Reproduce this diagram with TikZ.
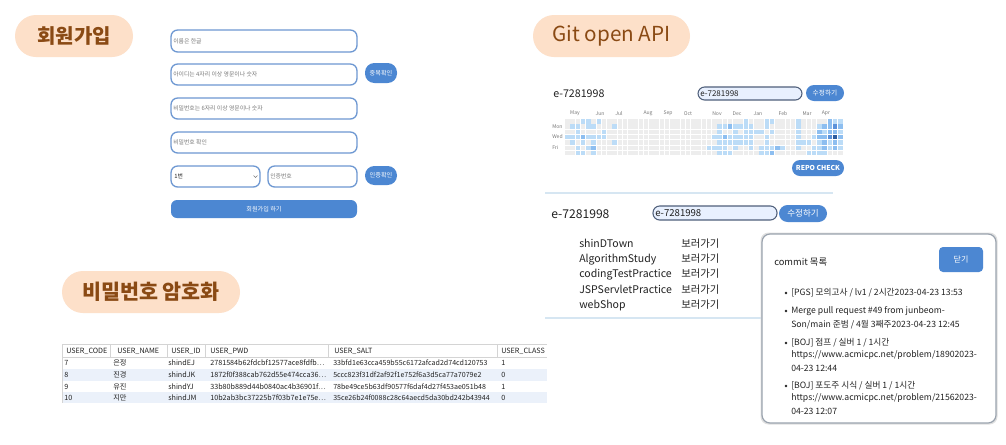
\documentclass[tikz,border=0pt]{standalone}
\usepackage{fontspec}
\setmainfont{Noto Sans CJK KR}
\definecolor{peach}{HTML}{FDE0C9}
\definecolor{brownt}{HTML}{8A4A14}
\definecolor{btnblue}{HTML}{4C87D2}
\definecolor{fieldb}{HTML}{6E98D2}
\definecolor{ph}{HTML}{7A7A7A}
\definecolor{inputfill}{HTML}{E8F0FE}
\definecolor{inputb}{HTML}{4F5F7A}
\definecolor{sepc}{HTML}{D6E6F2}
\definecolor{cg0}{HTML}{EDEDED}
\definecolor{cg1}{HTML}{BCDCF7}
\definecolor{cg2}{HTML}{8DBEF0}
\definecolor{cg3}{HTML}{5C92DA}
\definecolor{cg4}{HTML}{2E5C9E}
\definecolor{rowb}{HTML}{EBF1FA}
\definecolor{tline}{HTML}{D4D4D4}
\definecolor{modalb}{HTML}{9AA3AE}
\definecolor{txt}{HTML}{222222}
\newcommand{\ellp}{\ldots}
\begin{document}
\begin{tikzpicture}[x=0.75pt,y=-0.75pt,inner sep=0pt,
  pill/.style={fill=peach,rounded corners=15.75pt},
  pilltext/.style={text=brownt,font=\fontsize{15}{18}\selectfont\bfseries},
  fieldbox/.style={draw=fieldb,line width=1pt,rounded corners=5pt,fill=white},
  placeholder/.style={anchor=west,text=ph,font=\fontsize{4.4}{5}\selectfont},
  btn/.style={fill=btnblue,rounded corners=7pt},
  btntext/.style={text=white,font=\fontsize{4.6}{5}\selectfont},
  inputbox/.style={draw=inputb,fill=inputfill,line width=0.8pt,rounded corners=5pt},
  tiny/.style={text=ph,font=\fontsize{3.8}{4}\selectfont},
  repo/.style={anchor=base west,text=txt,font=\fontsize{7.9}{10}\selectfont},
  repok/.style={anchor=base west,text=txt,font=\fontsize{7.8}{10}\selectfont},
  cmt/.style={anchor=west,text=txt,font=\fontsize{6.5}{8}\selectfont},
  tbl/.style={anchor=base west,text=txt,font=\fontsize{5.4}{7}\selectfont},
  hex/.style={anchor=base west,text=txt,font=\fontsize{5.3}{6}\selectfont},
  sepline/.style={draw=sepc,line width=1pt}]
\useasboundingbox (0,0) rectangle (1006,444);
\fill[white] (0,0) rectangle (1006,444);

% ---------- labels ----------
\fill[pill] (15,15) rectangle (133,57);
\node[pilltext] (lblsign) at (74,36) {회원가입};
\fill[pill] (533,15) rectangle (690,57);
\node[pilltext,font=\fontsize{15.5}{18}\selectfont] (lblgit) at (611.5,36) {Git open API};
\fill[pill] (62,271) rectangle (240,313);
\node[pilltext,font=\fontsize{15.5}{18}\selectfont\bfseries] (lblpwd) at (151,292) {비밀번호 암호화};

% ---------- sign-up form ----------
\draw[fieldbox] (171,30) rectangle (357,52);
\node[placeholder] (f1) at (173,41) {이름은 한글};
\draw[fieldbox] (171,64) rectangle (357,85);
\node[placeholder] (f2) at (173,74.5) {아이디는 4자리 이상 영문이나 숫자};
\fill[btn] (365,63) rectangle (397,83);
\node[btntext] (b1) at (381,73) {중복확인};
\draw[fieldbox] (171,98) rectangle (357,119);
\node[placeholder] (f3) at (173,108.5) {비밀번호는 6자리 이상 영문이나 숫자};
\draw[fieldbox] (171,132) rectangle (357,153);
\node[placeholder] (f4) at (173,142.5) {비밀번호 확인};
\draw[fieldbox] (171,166) rectangle (260,187);
\node[placeholder,text=txt] (f5) at (174,176.5) {1번};
\draw[ph,line width=0.5pt] (253.5,175.5) -- (255.5,177.5) -- (257.5,175.5);
\draw[fieldbox] (268,166) rectangle (357,187);
\node[placeholder] (f6) at (270,176.5) {인증번호};
\fill[btn] (365,166) rectangle (397,185);
\node[btntext] (b2) at (381,175.5) {인증확인};
\fill[btn,rounded corners=4.5pt] (171,200) rectangle (357,218);
\node[btntext] (b3) at (264,209) {회원가입 하기};

% ---------- git section (top) ----------
\node[anchor=west,text=txt,font=\fontsize{8}{10}\selectfont] (gt1) at (553,94) {e-7281998};
\draw[inputbox] (698,87) rectangle (802,100);
\node[anchor=west,text=txt,font=\fontsize{6}{7}\selectfont] (gi1) at (700,93.5) {e-7281998};
\fill[btn,rounded corners=6pt] (806,85) rectangle (844,101);
\node[btntext,font=\fontsize{5}{6}\selectfont] (gb1) at (825,93) {수정하기};

\foreach \m/\xx in {May/575,Jun/600,Jul/619,Aug/648,Sep/668,Oct/688,Nov/717,Dec/737,Jan/758,Feb/783,Mar/807,Apr/826}
  \node[tiny] (m\m) at (\xx,113.5) {\m};
\node[tiny,anchor=west] (dmon) at (552,126.5) {Mon};
\node[tiny,anchor=west] (dwed) at (552,137) {Wed};
\node[tiny,anchor=west] (dfri) at (552,147.8) {Fri};

\foreach \r in {0,...,6}{\foreach \c in {0,...,52}{\fill[cg0] ({565+\c*5.25},{119+\r*5.3}) rectangle ++(4.5,4.5);}}
\foreach \r/\cols in {0/{3,4,6,34,38,39,44,51,52},
                      1/{1,2,4,5,9,29,30,32,33,34,35,38,44,48},
                      2/{2,7,29,32,34,35,36,37,39,44,49,52},
                      3/{0,1,2,4,5,6,7,28,29,31,32,33,34,35,38,44,47},
                      4/{1,3,5,9,29,30,31,32,33,34,35,38,44,45,46,48,50,52},
                      5/{2,4,27,28,29,30,32,35,37,38,39,41,44,47,48,50,52},
                      6/{2,3,5,29,30,31,37,38,46,47,48,49}}
  {\foreach \c in \cols {\fill[cg1] ({565+\c*5.25},{119+\r*5.3}) rectangle ++(4.5,4.5);}}
\foreach \r/\cols in {0/{50},1/{31,49,50,52},2/{48,50,51},3/{3,30,48,49,52},4/{49,51},5/{5,40,49,51},6/{39}}
  {\foreach \c in \cols {\fill[cg2] ({565+\c*5.25},{119+\r*5.3}) rectangle ++(4.5,4.5);}}
\foreach \c/\r in {51/1,50/3}
  {\fill[cg3] ({565+\c*5.25},{119+\r*5.3}) rectangle ++(4.5,4.5);}
\fill[cg4] ({565+51*5.25},{119+3*5.3}) rectangle ++(4.5,4.5);

\fill[btn,rounded corners=6pt] (792,160) rectangle (844,176);
\node[btntext,font=\fontsize{5.1}{6}\selectfont\bfseries] (repo) at (818,168) {REPO CHECK};

\draw[sepline] (545,193) -- (833,193);

% ---------- git section (bottom) ----------
\node[anchor=west,text=txt,font=\fontsize{9.1}{12}\selectfont] (gt2) at (551,214.5) {e-7281998};
\draw[inputbox] (653,206) rectangle (777,220);
\node[anchor=west,text=txt,font=\fontsize{7.2}{8}\selectfont] (gi2) at (655,213) {e-7281998};
\fill[btn,rounded corners=6.4pt] (779,205) rectangle (827,222);
\node[btntext,font=\fontsize{6.4}{7}\selectfont] (gb2) at (803,213.5) {수정하기};

\foreach \n/\name/\yy in {1/shinDTown/244,2/AlgorithmStudy/259,3/codingTestPractice/274,4/JSPServletPractice/289.5,5/webShop/305}{
  \node[repo] (rn\n) at (579,\yy+3.8) {\name};
  \node[repok] (rv\n) at (681,\yy+3.8) {보러가기};
}
\draw[sepline] (545,318) -- (762,318);

% ---------- commit modal ----------
\fill[black!12,rounded corners=6pt] (760.5,232.5) rectangle (997.5,424.5);
\draw[draw=modalb,fill=white,rounded corners=6pt,line width=0.9pt] (762,234) rectangle (996,423);
\node[cmt,font=\fontsize{7}{8}\selectfont] (ctitle) at (774,262) {commit 목록};
\fill[btn,rounded corners=3pt] (939,247) rectangle (983,272);
\node[btntext,font=\fontsize{6}{7}\selectfont] (close) at (961,259.5) {닫기};
\foreach \yy in {293,311,343,386} \fill[txt] (786,\yy) circle (1.4);
\node[cmt] (c1) at (791,293) {[PGS] 모의고사 / lv1 / 2시간2023-04-23 13:53};
\node[cmt] (c2a) at (791,311) {Merge pull request \#49 from junbeom-};
\node[cmt] (c2b) at (791,324.5) {Son/main 준범 / 4월 3째주2023-04-23 12:45};
\node[cmt] (c3a) at (791,343) {[BOJ] 점프 / 실버 1 / 1시간};
\node[cmt] (c3b) at (791,355.5) {https://www.acmicpc.net/problem/18902023-};
\node[cmt] (c3c) at (791,368) {04-23 12:44};
\node[cmt] (c4a) at (791,386) {[BOJ] 포도주 시식 / 실버 1 / 1시간};
\node[cmt] (c4b) at (791,398.5) {https://www.acmicpc.net/problem/21562023-};
\node[cmt] (c4c) at (791,411) {04-23 12:07};

% ---------- table ----------
\fill[rowb] (62,369) rectangle (547,381);
\fill[rowb] (62,392) rectangle (547,403);
\draw[tline,line width=0.6pt] (62,344) -- (547,344);
\draw[tline,line width=0.6pt] (62,357) -- (547,357);
\draw[tline,line width=0.6pt] (62,344) -- (62,403);
\foreach \xx in {110,167,205,328,497} \draw[tline,line width=0.5pt] (\xx,344) -- (\xx,357);
\node[tbl] (h1) at (66,353.5) {USER\_CODE};
\node[tbl] (h2) at (117,353.5) {USER\_NAME};
\node[tbl] (h3) at (171,353.5) {USER\_ID};
\node[tbl] (h4) at (210,353.5) {USER\_PWD};
\node[tbl] (h5) at (334,353.5) {USER\_SALT};
\node[tbl] (h6) at (501,353.5) {USER\_CLASS};
\foreach \n/\code/\nm/\uid/\pw/\salt/\cls/\yy in {
  1/7/은정/shindEJ/2781584b62fdcbf12577ace8fdfb\ellp/33bfd1e63cca459b55c6172afcad2d74cd120753/1/363,
  2/8/진경/shindJK/1872f0f388cab762d55e474cca36\ellp/5ccc823f31df2af92f1e752f6a3d5ca77a7079e2/0/375,
  3/9/유진/shindYJ/33b80b889d44b0840ac4b36901f\ellp/78be49ce5b63df90577f6daf4d27f453ae051b48/1/386.5,
  4/10/지만/shindJM/10b2ab3bc37225b7f03b7e1e75e\ellp/35ce26b24f0088c28c64aecd5da30bd242b43944/0/397.5}{
  \node[tbl] (tc\n) at (64,\yy+2.5) {\code};
  \node[tbl] (tn\n) at (113,\yy+2.5) {\nm};
  \node[tbl] (ti\n) at (168,\yy+2.5) {\uid};
  \node[hex,font=\fontsize{5.4}{6}\selectfont] (tp\n) at (210,\yy+2.5) {\pw};
  \node[hex] (ts\n) at (333,\yy+2.5) {\salt};
  \node[tbl] (tl\n) at (501,\yy+2.5) {\cls};
}
\end{tikzpicture}
\end{document}
